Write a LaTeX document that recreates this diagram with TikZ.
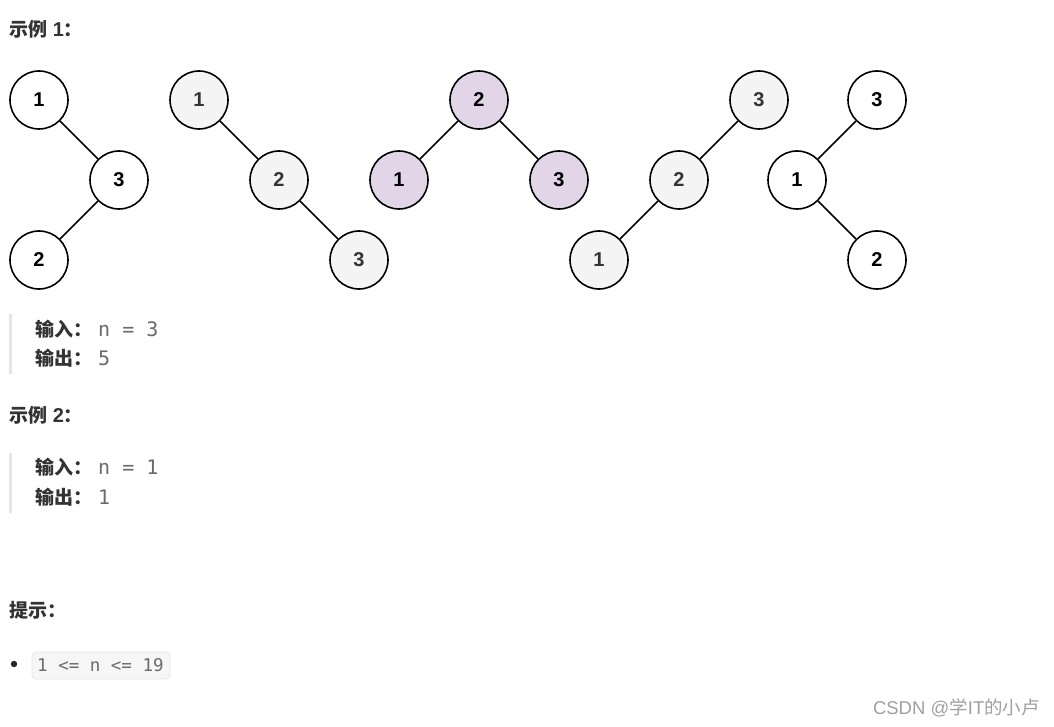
\documentclass[tikz,border=0pt]{standalone}
\usepackage{fontspec}
\setmainfont{Liberation Sans}
\newfontfamily\cjk{Noto Sans CJK SC}
\newfontfamily\mono{DejaVu Sans Mono}
\newfontfamily\latinb{Liberation Sans}
\definecolor{grayfill}{HTML}{F4F4F4}
\definecolor{purplefill}{HTML}{E1D5E7}
\definecolor{graytext}{HTML}{333333}
\definecolor{monotext}{HTML}{6B6B6B}
\definecolor{barcol}{HTML}{E6E6E6}
\definecolor{codebg}{HTML}{F6F6F7}
\definecolor{wmcol}{HTML}{A0A0A0}
\tikzset{
  tn/.style={circle, draw=black, line width=1.6pt, minimum size=58pt, inner sep=0pt,
    font=\fontsize{20}{20}\selectfont\bfseries, fill=white, text=black},
  gn/.style={tn, fill=grayfill, text=graytext},
  pn/.style={tn, fill=purplefill},
  edge/.style={line width=1.5pt, black},
  head/.style={anchor=base west, inner sep=0pt, font=\cjk\fontsize{19}{19}\selectfont\bfseries, text=graytext},
  mtext/.style={anchor=base west, inner sep=0pt, font=\mono\fontsize{20}{20}\selectfont, text=monotext},
  bar/.style={draw=none, fill=barcol}
}
\begin{document}
\begin{tikzpicture}[x=1pt,y=-1pt]
\useasboundingbox (0,0) rectangle (1054,727);
\fill[white] (0,0) rectangle (1054,727);
% tree 1
\node[tn] (a1) at (39,100) {1};
\node[tn] (a3) at (119,180) {3};
\node[tn] (a2) at (39,260) {2};
\draw[edge] (a1) -- (a3);
\draw[edge] (a3) -- (a2);
% tree 2
\node[gn] (b1) at (199,100) {1};
\node[gn] (b2) at (279,180) {2};
\node[gn] (b3) at (359,260) {3};
\draw[edge] (b1) -- (b2);
\draw[edge] (b2) -- (b3);
% tree 3
\node[pn] (c2) at (479,100) {2};
\node[pn] (c1) at (399,180) {1};
\node[pn] (c3) at (559,180) {3};
\draw[edge] (c2) -- (c1);
\draw[edge] (c2) -- (c3);
% tree 4
\node[gn] (d3) at (759,100) {3};
\node[gn] (d2) at (679,180) {2};
\node[gn] (d1) at (599,260) {1};
\draw[edge] (d3) -- (d2);
\draw[edge] (d2) -- (d1);
% tree 5
\node[tn] (e3) at (877,100) {3};
\node[tn] (e1) at (797,180) {1};
\node[tn] (e2) at (877,260) {2};
\draw[edge] (e3) -- (e1);
\draw[edge] (e1) -- (e2);
% texts
\node[head] (h1) at (9,37) {示例{\latinb\bfseries\fontsize{20}{20}\selectfont\ 1}：};
\fill[barcol] (9,314) rectangle (12,374);
\node[head] (in1) at (35,336) {输入：};
\node[mtext] (in1v) at (98,336) {n = 3};
\node[head] (out1) at (35,365) {输出：};
\node[mtext] (out1v) at (98,365) {5};
\node[head] (h2) at (9,422) {示例{\latinb\bfseries\fontsize{20}{20}\selectfont\ 2}：};
\fill[barcol] (9,453) rectangle (12,513);
\node[head] (in2) at (35,474) {输入：};
\node[mtext] (in2v) at (98,474) {n = 1};
\node[head] (out2) at (35,504) {输出：};
\node[mtext] (out2v) at (98,504) {1};
\node[head] (h3) at (9,617) {提示：};
\fill[black!85] (14,664) circle (3.2);
\draw[fill=codebg, draw=barcol, line width=0.8pt, rounded corners=4pt] (32,652) rectangle (170,679);
\node[mtext, font=\mono\fontsize{17.5}{17.5}\selectfont] (code) at (37,671) {1 <= n <= 19};
\node[anchor=base east, inner sep=0pt, text=wmcol, font=\fontsize{18.5}{18.5}\selectfont] (wm) at (1040,714) {CSDN @{\cjk 学}IT{\cjk 的小卢}};
\end{tikzpicture}
\end{document}
